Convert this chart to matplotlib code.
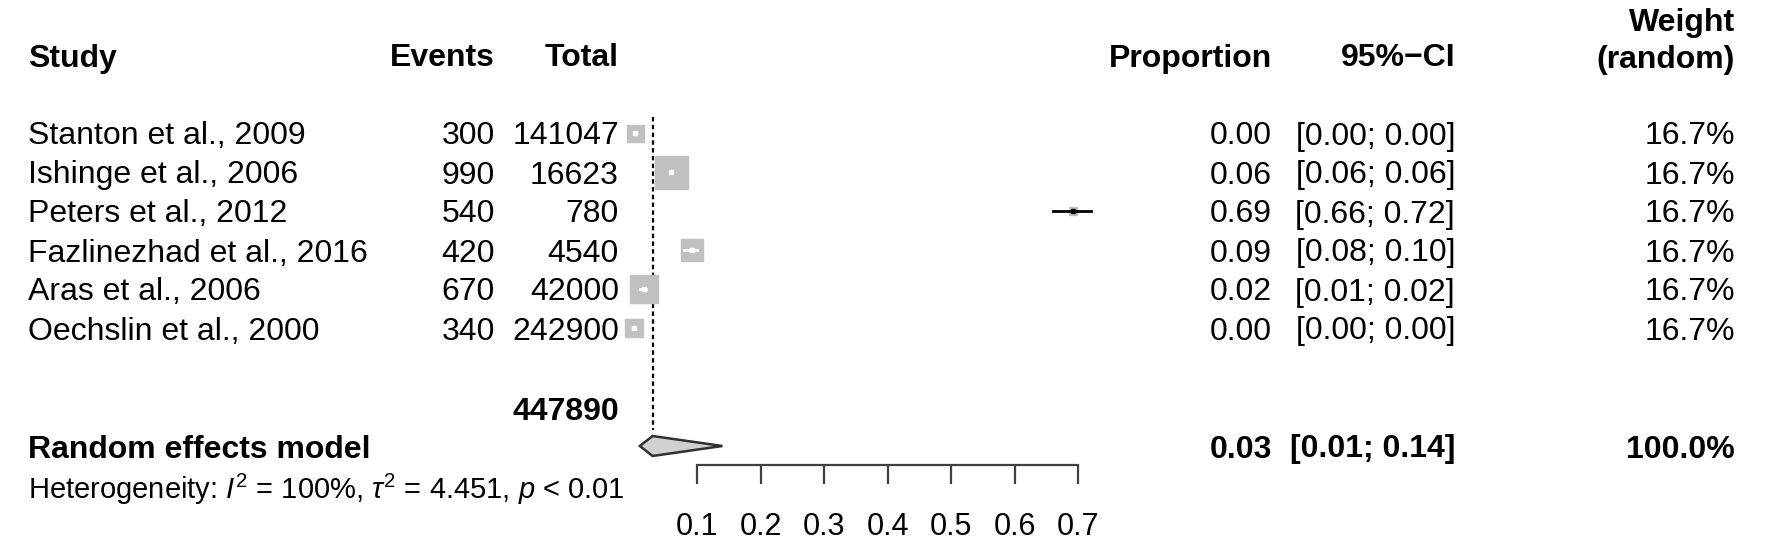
import matplotlib
matplotlib.use("Agg")
import matplotlib.pyplot as plt
from matplotlib.transforms import blended_transform_factory

plt.rcParams['font.family'] = ['Liberation Sans', 'DejaVu Sans']
plt.rcParams['mathtext.fontset'] = 'custom'
plt.rcParams['mathtext.rm'] = 'Liberation Sans'
plt.rcParams['mathtext.it'] = 'Liberation Sans:italic'

# data
studies = ['Stanton et al., 2009', 'Ishinge et al., 2006', 'Peters et al., 2012',
           'Fazlinezhad et al., 2016', 'Aras et al., 2006', 'Oechslin et al., 2000']
events = [300, 990, 540, 420, 670, 340]
totals = [141047, 16623, 780, 4540, 42000, 242900]
prop = [0.0021, 0.0596, 0.6923, 0.0925, 0.0160, 0.0014]
ci_lo = [0.00, 0.06, 0.66, 0.08, 0.01, 0.00]
ci_hi = [0.00, 0.06, 0.72, 0.10, 0.02, 0.00]
weights = ['16.7%'] * 6
total_n = 447890
re_est, re_lo, re_hi = 0.03, 0.01, 0.14
re_weight = '100.0%'
xticks = [0.1, 0.2, 0.3, 0.4, 0.5, 0.6, 0.7]

# box sizes as drawn (px)
box_px = [17, 33, 8, 22, 28, 18]

W, H = 1772, 544
fig = plt.figure(figsize=(W / 100, H / 100), dpi=100)
ax = fig.add_axes([0, 0, 1, 1])

# x: 0 at px 633, 635 px per unit; y: row 1 at px 133, 39 px per row
x0, ppu = 633.5, 635.0
ax.set_xlim(-x0 / ppu, (W - x0) / ppu)
ax.set_ylim(1 + (H - 133) / 39, 1 - 133 / 39)

tr = blended_transform_factory(ax.transAxes, ax.transData)
fs = 23
dy = 3.5 / 39  # text sits a bit lower than bbox centre

def txt(px, row, s, ha='right', bold=False, size=fs):
    ax.text(px / W, row + dy, s, transform=tr, ha=ha, va='center', fontsize=size,
            fontweight='bold' if bold else 'normal', color='black')

# headers
txt(28, -1.0, 'Study', ha='left', bold=True)
txt(495, -1.0, 'Events', bold=True)
txt(619, -1.0, 'Total', bold=True)
txt(1272, -1.0, 'Proportion', bold=True)
txt(1455, -1.0, '95%\u2212CI', bold=True)
txt(1735, -1.92, 'Weight', bold=True)
txt(1735, -0.95, '(random)', bold=True)

rows = list(range(1, len(studies) + 1))
for i, r in enumerate(rows):
    txt(28, r, studies[i], ha='left')
    txt(495, r, str(events[i]))
    txt(619, r, str(totals[i]))
    txt(1272, r, f'{prop[i]:.2f}')
    txt(1455, r, f'[{ci_lo[i]:.2f}; {ci_hi[i]:.2f}]')
    txt(1735, r, weights[i])

    ms = box_px[i] * 0.72
    ax.plot(prop[i], r, marker='s', ms=ms, color='#c0c0c0', mec='#c0c0c0', zorder=3)
    half = box_px[i] / 2 / ppu
    inside = (ci_lo[i] >= prop[i] - half) and (ci_hi[i] <= prop[i] + half)
    col = 'white' if inside else 'black'
    ax.plot([ci_lo[i], ci_hi[i]], [r, r], color=col, lw=2, zorder=4)
    if inside:
        ax.plot(prop[i], r, marker='s', ms=2.5, color='white', mec='white', zorder=4)
    else:
        ax.plot(prop[i], r, marker='s', ms=3, color='black', zorder=5)

# totals and pooled
r_tot = 1 + (409 - 133) / 39
r_re = 1 + (446 - 133) / 39
txt(619, r_tot, str(total_n), bold=True)
txt(28, r_re, 'Random effects model', ha='left', bold=True)
txt(1272, r_re, f'{re_est:.2f}', bold=True)
txt(1455, r_re, f'[{re_lo:.2f}; {re_hi:.2f}]', bold=True)
txt(1735, r_re, re_weight, bold=True)
txt(28, 1 + (486 - 133) / 39,
    r'Heterogeneity: $I^2$ = 100%, $\tau^2$ = 4.451, $p$ < 0.01', ha='left', size=21)

dh = 10 / 39
ax.fill([re_lo, re_est, re_hi, re_est], [r_re, r_re - dh, r_re, r_re + dh],
        facecolor='#d0d0d0', edgecolor='#303030', lw=1.8, zorder=3)

# dashed line at pooled estimate
ax.plot([re_est, re_est], [1 + (117 - 133) / 39, 1 + (430 - 133) / 39],
        color='black', lw=1.6, ls=(0, (2, 1.5)), zorder=2)

# x axis
for s in ['top', 'left', 'right']:
    ax.spines[s].set_visible(False)
ax.spines['bottom'].set_position(('data', 1 + (465 - 133) / 39))
ax.spines['bottom'].set_bounds(xticks[0], xticks[-1])
ax.spines['bottom'].set_color('#404040')
ax.spines['bottom'].set_linewidth(1.6)
ax.set_xticks(xticks)
ax.set_xticklabels([f'{t:.1f}' for t in xticks])
ax.tick_params(axis='x', direction='out', length=14, width=1.6, color='#404040',
               labelsize=22, labelcolor='black', pad=20)
ax.set_yticks([])
ax.patch.set_alpha(0)

fig.savefig('out.png', dpi=100)
